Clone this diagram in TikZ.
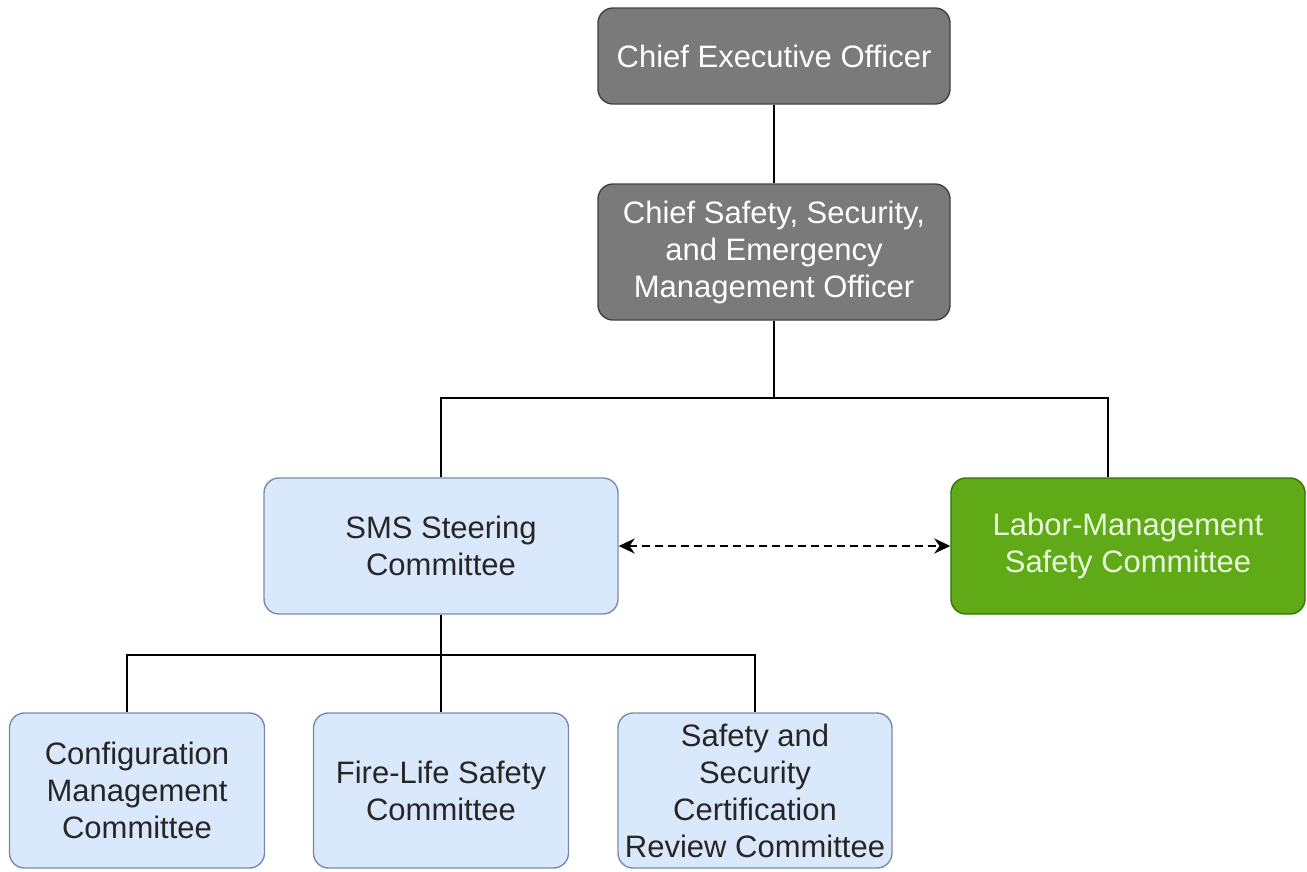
\documentclass[tikz,border=0pt]{standalone}
\usepackage{fontspec}
\setmainfont{Liberation Sans}
\usetikzlibrary{arrows.meta}
\definecolor{offgray}{RGB}{122,122,122}
\definecolor{offline}{RGB}{64,64,64}
\definecolor{cmtblue}{RGB}{218,232,252}
\definecolor{cmtline}{RGB}{120,140,170}
\definecolor{labgreen}{RGB}{96,169,23}
\definecolor{labline}{RGB}{45,118,0}
\definecolor{labtext}{RGB}{232,250,220}
\begin{document}
\begin{tikzpicture}[x=1pt,y=-1pt,line width=1.8pt]
	\tikzstyle{box} = [rounded corners=15pt,inner sep=0pt,align=center,line width=1.4pt,
		font=\fontsize{31}{37}\selectfont]
	\tikzstyle{officer} = [box,fill=offgray,draw=offline,text=white,minimum width=352pt]
	\tikzstyle{steer} = [box,fill=cmtblue,draw=cmtline,text=black!85,minimum width=354pt,minimum height=136pt]
	\tikzstyle{labor} = [box,fill=labgreen,draw=labline,text=labtext,minimum width=354pt,minimum height=136pt]
	\tikzstyle{sub} = [box,fill=cmtblue,draw=cmtline,text=black!85,minimum height=155pt]
	
	\useasboundingbox (0,0) rectangle (1307,871);
	
	\node[officer,minimum height=96pt] (ceo) at (774,56) {Chief Executive Officer};
	\node[officer,minimum height=136pt] (cso) at (774,252) {Chief Safety, Security,\\and Emergency\\Management Officer};
	
	\node[steer] (sms) at (441,546) {SMS Steering\\Committee};
	\node[labor] (lmsc) at (1128,546) {Labor-Management\\Safety Committee};
	
	\node[sub,minimum width=255pt] (cmc) at (137,790.5) {Configuration\\Management\\Committee};
	\node[sub,minimum width=255pt] (flsc) at (441,790.5) {Fire-Life Safety\\Committee};
	\node[sub,minimum width=274pt] (sscrc) at (755,790.5) {Safety and\\Security\\Certification\\Review Committee};
	
	\coordinate (top) at (774,398);
	\coordinate (topl) at (441,398);
	\coordinate (topr) at (1108,398);
	\coordinate (bot) at (441,655);
	\coordinate (botl) at (127,655);
	\coordinate (botr) at (755,655);
	
	\draw (ceo) -- (cso);
	\draw (cso) -- (top);
	\draw (sms) -- (topl) -- (topr) -- (topr |- lmsc.north);
	\draw (sms) -- (bot);
	\draw (botl |- cmc.north) -- (botl) -- (botr) -- (sscrc);
	\draw (bot) -- (flsc);
	\draw[line width=2.6pt,dash pattern=on 8pt off 5pt,{Stealth[length=16pt,width=15pt]}-{Stealth[length=16pt,width=15pt]}] (sms) -- (lmsc);
\end{tikzpicture}
\end{document}
